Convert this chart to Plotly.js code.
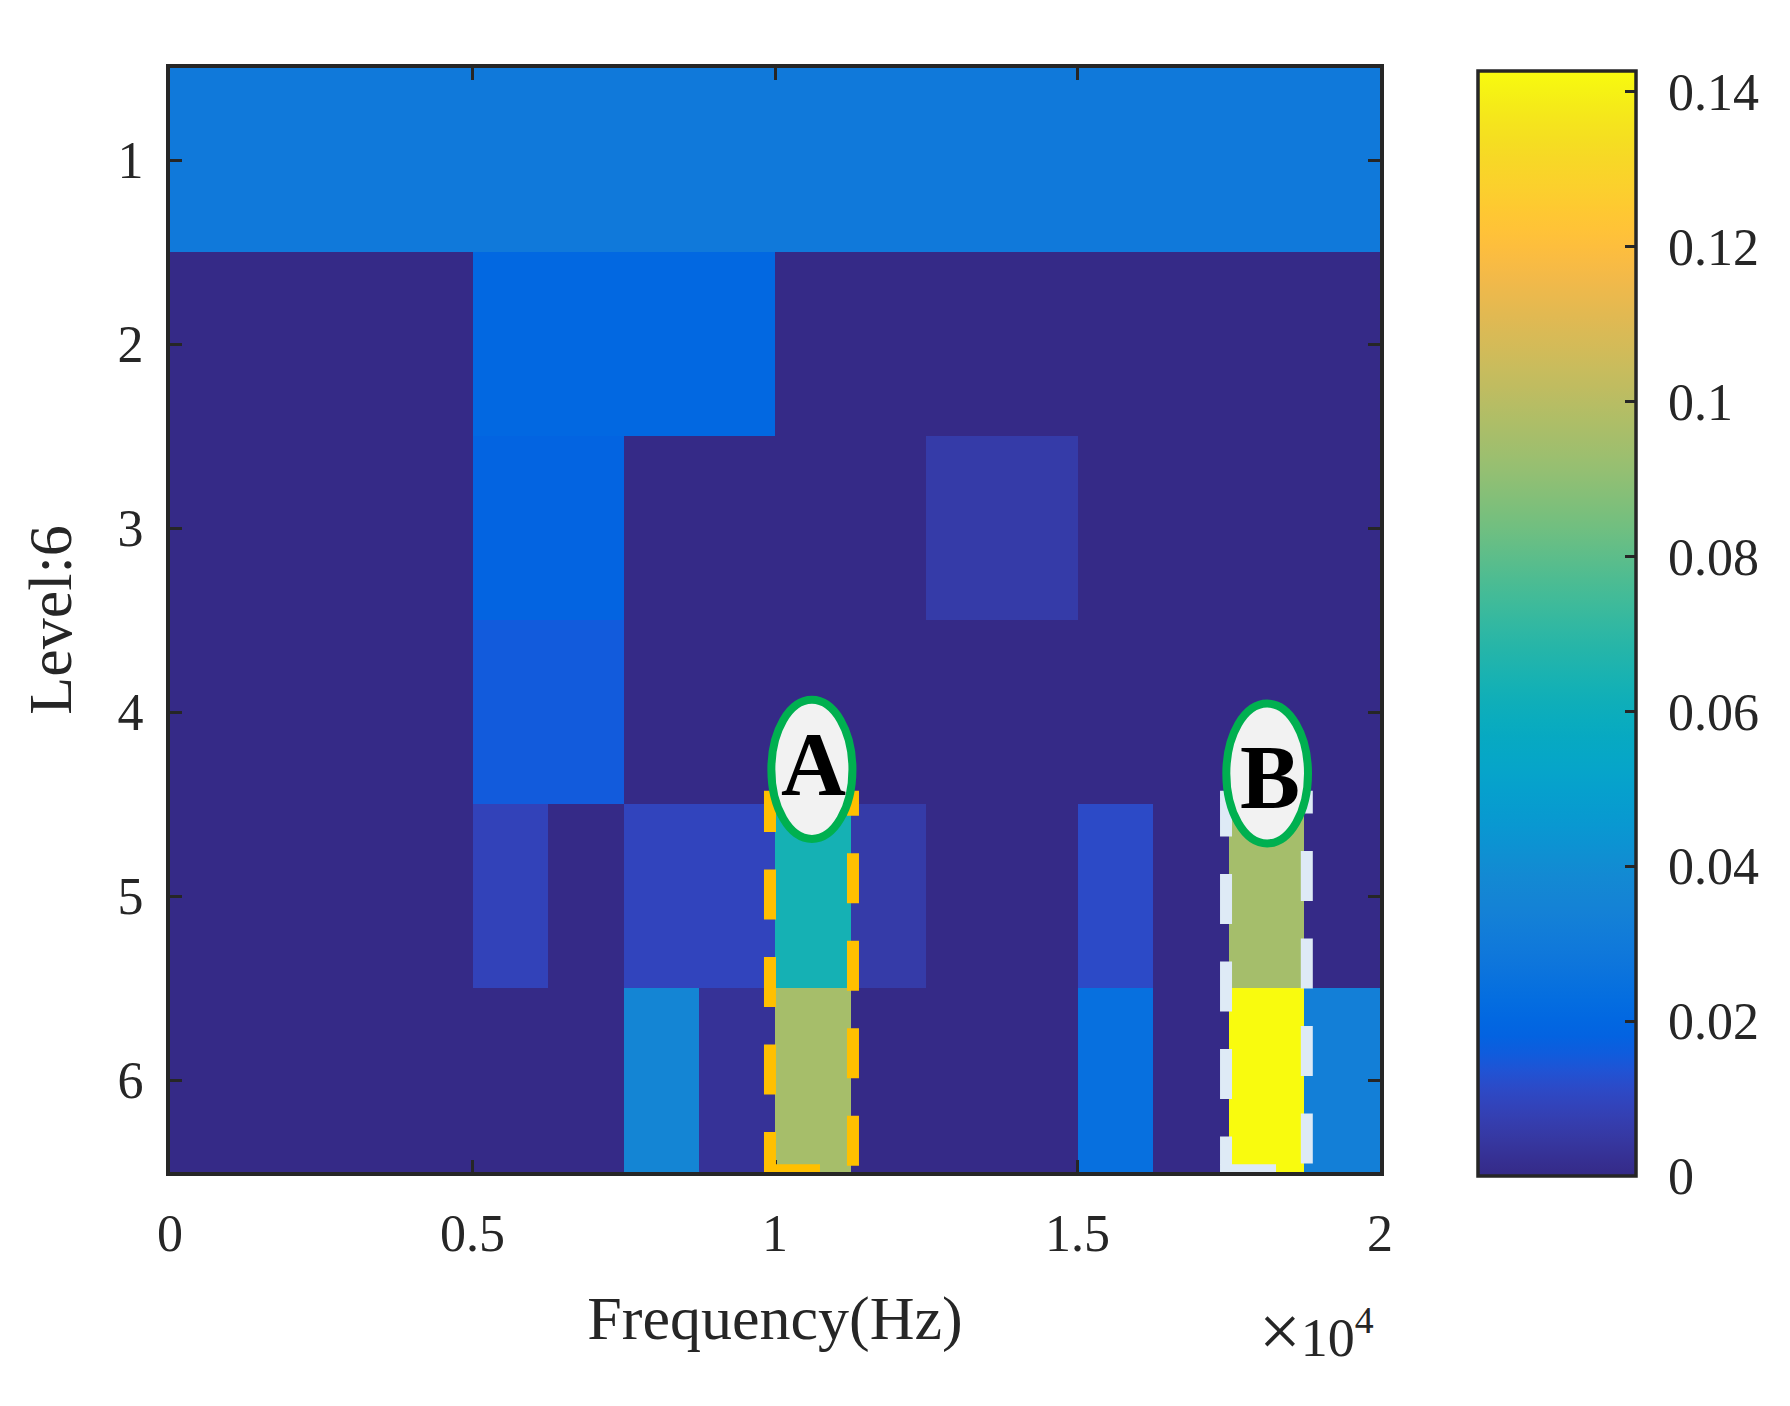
<!DOCTYPE html>
<html>
<head>
<meta charset="utf-8">
<script src="https://cdn.plot.ly/plotly-3.0.1.min.js"></script>
<style>html,body{margin:0;padding:0;background:#fff;}#chart{width:1790px;height:1406px;}</style>
</head>
<body>
<div id="chart"></div>
<script>
// ---- data ----
const levelLabels = [1, 2, 3, 4, 5, 6];
const freqEdges = [0, 1250, 2500, 3750, 5000, 6250, 7500, 8750, 10000,
                   11250, 12500, 13750, 15000, 16250, 17500, 18750, 20000];
// kurtosis per level, at each level's own band resolution
const level1 = [0.0294];
const level2 = [0, 0.0204, 0, 0];
const level3 = [0, 0, 0.0185, 0, 0, 0.0060, 0, 0];
const level4 = [0, 0, 0.0155, 0, 0, 0, 0, 0];
const level5 = [0, 0, 0, 0, 0.0088, 0, 0.0095, 0.0095, 0.0635, 0.0060, 0, 0, 0.0113, 0, 0.0952, 0];
const level6 = [0, 0, 0, 0, 0, 0, 0.0362, 0.0030, 0.0955, 0, 0, 0, 0.0243, 0, 0.1427, 0.0328];
const xTickVals = [0, 5000, 10000, 15000, 20000];
const xTickText = ['0', '0.5', '1', '1.5', '2'];
const cbTickVals = [0, 0.02, 0.04, 0.06, 0.08, 0.1, 0.12, 0.14];
const cbTickText = ['0', '0.02', '0.04', '0.06', '0.08', '0.1', '0.12', '0.14'];
const zMin = 0, zMax = 0.1427;

// ---- parula colormap (style) ----
const parula = [
[0.2081,0.1663,0.5292],[0.2116,0.1898,0.5777],[0.2123,0.2138,0.6270],[0.2081,0.2386,0.6771],
[0.1959,0.2645,0.7279],[0.1707,0.2919,0.7792],[0.1253,0.3242,0.8303],[0.0591,0.3598,0.8683],
[0.0117,0.3875,0.8820],[0.0060,0.4086,0.8828],[0.0165,0.4266,0.8786],[0.0329,0.4430,0.8720],
[0.0498,0.4586,0.8641],[0.0629,0.4737,0.8554],[0.0723,0.4887,0.8467],[0.0779,0.5040,0.8384],
[0.0793,0.5200,0.8312],[0.0749,0.5375,0.8263],[0.0641,0.5570,0.8240],[0.0488,0.5772,0.8228],
[0.0343,0.5966,0.8199],[0.0265,0.6137,0.8135],[0.0239,0.6287,0.8038],[0.0231,0.6418,0.7913],
[0.0228,0.6535,0.7768],[0.0267,0.6642,0.7607],[0.0384,0.6743,0.7436],[0.0590,0.6838,0.7254],
[0.0843,0.6928,0.7062],[0.1133,0.7015,0.6859],[0.1453,0.7098,0.6646],[0.1801,0.7177,0.6424],
[0.2178,0.7250,0.6193],[0.2586,0.7317,0.5954],[0.3022,0.7376,0.5712],[0.3482,0.7424,0.5473],
[0.3953,0.7459,0.5244],[0.4420,0.7481,0.5033],[0.4871,0.7491,0.4840],[0.5300,0.7491,0.4661],
[0.5709,0.7485,0.4494],[0.6099,0.7473,0.4337],[0.6473,0.7456,0.4188],[0.6834,0.7435,0.4044],
[0.7184,0.7411,0.3905],[0.7525,0.7384,0.3768],[0.7858,0.7356,0.3633],[0.8185,0.7327,0.3498],
[0.8507,0.7299,0.3360],[0.8824,0.7274,0.3217],[0.9139,0.7258,0.3063],[0.9450,0.7261,0.2886],
[0.9739,0.7314,0.2666],[0.9938,0.7455,0.2403],[0.9990,0.7653,0.2164],[0.9955,0.7861,0.1967],
[0.9880,0.8066,0.1794],[0.9789,0.8271,0.1633],[0.9697,0.8481,0.1475],[0.9626,0.8705,0.1309],
[0.9589,0.8949,0.1132],[0.9598,0.9218,0.0948],[0.9661,0.9514,0.0755],[0.9763,0.9831,0.0538]];
const colorscale = parula.map((c, i) => [i / (parula.length - 1),
  'rgb(' + c.map(v => Math.round(v * 255)).join(',') + ')']);

// expand each level to the finest band grid
const nBands = freqEdges.length - 1;
function expand(row) {
  const rep = nBands / row.length;
  const out = [];
  row.forEach(v => { for (let k = 0; k < rep; k++) out.push(v); });
  return out;
}
const z = [level1, level2, level3, level4, level5, level6].map(expand);

const ink = '#262626';
const serif = 'Liberation Serif, Times New Roman, serif';

const cbBase = {
  x: 1.081, xanchor: 'left', xref: 'paper',
  y: 0.4968, yanchor: 'middle',
  len: 1105, lenmode: 'pixels',
  thickness: 158, thicknessmode: 'pixels',
  tickvals: cbTickVals, ticktext: cbTickText,
  tickfont: {family: serif, size: 52, color: ink},
  xpad: 0, ypad: 0
};

// colour-bar labels (pushed away from the bar)
const traceLabels = {
  type: 'heatmap', x: freqEdges, y: levelLabels, z: z,
  zmin: zMin, zmax: zMax, colorscale: colorscale, hoverinfo: 'skip',
  colorbar: Object.assign({}, cbBase, {
    outlinewidth: 0, ticks: 'outside', ticklen: 22, tickwidth: 1,
    tickcolor: 'rgba(0,0,0,0)', showticklabels: true
  })
};
// main heatmap, colour bar drawn with inside ticks and outline
const traceMain = {
  type: 'heatmap', x: freqEdges, y: levelLabels, z: z,
  zmin: zMin, zmax: zMax, colorscale: colorscale, hoverinfo: 'x+y+z',
  colorbar: Object.assign({}, cbBase, {
    outlinewidth: 3.5, outlinecolor: ink,
    ticks: 'inside', ticklen: 12, tickwidth: 3, tickcolor: ink,
    showticklabels: false
  })
};

const layout = {
  width: 1790, height: 1406,
  margin: {l: 170, r: 410, t: 68, b: 234},
  paper_bgcolor: '#ffffff', plot_bgcolor: '#ffffff',
  font: {family: serif, color: ink},
  xaxis: {
    range: [0, 20000],
    tickvals: xTickVals, ticktext: xTickText,
    ticks: 'inside', ticklen: 12, tickwidth: 3, tickcolor: ink,
    showline: true, linewidth: 4, linecolor: ink, mirror: 'ticks',
    showgrid: false, zeroline: false,
    tickfont: {family: serif, size: 52, color: ink},
    ticklabelstandoff: 13,
    title: {text: 'Frequency(Hz)', font: {family: serif, size: 62, color: ink}, standoff: 35}
  },
  yaxis: {
    range: [6.5, 0.5],
    tickvals: levelLabels,
    ticks: 'inside', ticklen: 12, tickwidth: 3, tickcolor: ink,
    showline: true, linewidth: 4, linecolor: ink, mirror: 'ticks',
    showgrid: false, zeroline: false,
    tickfont: {family: serif, size: 52, color: ink},
    ticklabelstandoff: 12,
    title: {text: 'Level:6', font: {family: serif, size: 62, color: ink}, standoff: 27}
  },
  shapes: [
    {type: 'rect', xref: 'x', yref: 'y', x0: 9917, x1: 11289, y0: 6.49, y1: 4.46,
     line: {color: '#ffc000', width: 12, dash: '50px,37.5px'}, fillcolor: 'rgba(0,0,0,0)'},
    {type: 'rect', xref: 'x', yref: 'y', x0: 17455, x1: 18790, y0: 6.49, y1: 4.46,
     line: {color: '#deeaf6', width: 12, dash: '50px,37.5px'}, fillcolor: 'rgba(0,0,0,0)'},
    {type: 'circle', xref: 'x', yref: 'y', x0: 9940, x1: 11280, y0: 3.934, y1: 4.690,
     line: {color: '#00b050', width: 8}, fillcolor: '#f2f2f2'},
    {type: 'circle', xref: 'x', yref: 'y', x0: 17460, x1: 18810, y0: 3.954, y1: 4.714,
     line: {color: '#00b050', width: 8}, fillcolor: '#f2f2f2'}
  ],
  annotations: [
    {xref: 'x', yref: 'y', x: 10630, y: 4.283, text: '<b>A</b>', showarrow: false,
     xanchor: 'center', yanchor: 'middle', font: {family: serif, size: 90, color: '#000000'}},
    {xref: 'x', yref: 'y', x: 18190, y: 4.356, text: '<b>B</b>', showarrow: false,
     xanchor: 'center', yanchor: 'middle', font: {family: serif, size: 90, color: '#000000'}},
    {xref: 'paper', yref: 'paper', x: 0.997, y: -0.105, xanchor: 'right', yanchor: 'top',
     text: '<span style="font-size:74px">\u00d7</span>10<sup>4</sup>', showarrow: false,
     font: {family: serif, size: 54, color: ink}}
  ]
};

Plotly.newPlot('chart', [traceLabels, traceMain], layout, {displayModeBar: false, staticPlot: true});
</script>
</body>
</html>
